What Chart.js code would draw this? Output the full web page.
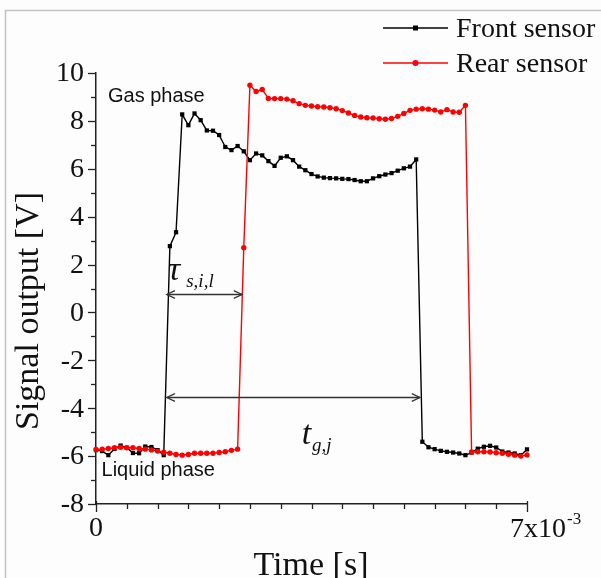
<!DOCTYPE html>
<html>
<head>
<meta charset="utf-8">
<script src="https://cdn.jsdelivr.net/npm/chart.js@4/dist/chart.umd.min.js"></script>
<style>
html,body{margin:0;padding:0;background:#fdfdfd;}
#wrap{width:601px;height:578px;position:relative;}
</style>
</head>
<body>
<div id="wrap"><canvas id="c" width="601" height="578"></canvas></div>
<script>
// ---- data (time in ms, signal in V) ----
const timeMs = [0.0,0.1,0.2,0.3,0.4,0.5,0.6,0.7,0.8,0.9,1.0,1.1,1.2,1.3,1.4,1.5,1.6,1.7,1.8,1.9,
  2.0,2.1,2.2,2.3,2.4,2.5,2.6,2.7,2.8,2.9,3.0,3.1,3.2,3.3,3.4,3.5,3.6,3.7,3.8,3.9,
  4.0,4.1,4.2,4.3,4.4,4.5,4.6,4.7,4.8,4.9,5.0,5.1,5.2,5.3,5.4,5.5,5.6,5.7,5.8,5.9,
  6.0,6.1,6.2,6.3,6.4,6.5,6.6,6.7,6.8,6.9,7.0];
const frontSensor = [-5.75,-5.79,-5.96,-5.70,-5.56,-5.65,-5.87,-5.88,-5.60,-5.62,-5.75,-5.96,
  2.77,3.35,8.27,7.82,8.31,8.03,7.60,7.59,7.41,6.91,6.78,6.95,6.73,6.36,6.64,6.56,6.32,6.12,
  6.46,6.52,6.36,6.09,5.94,5.78,5.68,5.63,5.61,5.60,5.58,5.57,5.53,5.48,5.48,5.60,5.69,5.76,
  5.82,5.92,6.02,6.09,6.39,-5.40,-5.63,-5.71,-5.78,-5.82,-5.85,-5.89,-5.96,-5.85,-5.69,-5.61,
  -5.57,-5.64,-5.81,-5.85,-5.89,-5.96,-5.72];
const rearSensor = [-5.72,-5.71,-5.68,-5.65,-5.63,-5.65,-5.65,-5.68,-5.71,-5.74,-5.79,-5.84,
  -5.88,-5.93,-5.96,-5.93,-5.88,-5.88,-5.88,-5.88,-5.85,-5.82,-5.76,-5.71,
  2.70,9.49,9.23,9.31,8.94,8.93,8.93,8.91,8.84,8.72,8.65,8.62,8.59,8.58,8.55,8.51,8.43,8.33,
  8.23,8.16,8.13,8.12,8.09,8.07,8.10,8.19,8.31,8.44,8.49,8.51,8.49,8.45,8.37,8.47,8.37,8.36,8.65,
  -5.83,-5.82,-5.82,-5.83,-5.86,-5.88,-5.92,-5.96,-6.00,-5.95];
const seriesNames = ['Front sensor', 'Rear sensor'];
const yTickValues = [-8,-6,-4,-2,0,2,4,6,8,10];
const yTickLabels = ['-8','-6','-4','-2','0','2','4','6','8','10'];
const xTickLabels = ['0', '7x10'];
const xTickExponent = '-3';
const xAxisTitle = 'Time [s]';
const yAxisTitle = 'Signal output [V]';

// annotation anchors in data units (ms, V)
const notes = {
  gas:    {text:'Gas phase',    t:0.195, v:8.77},
  liquid: {text:'Liquid phase', t:0.09,  v:-6.81},
  tau:    {main:'τ', sub:'s,i,l', t:1.17, v:1.35, gap:6, size:34},
  tg:     {main:'t', sub:'g,j',   t:3.34, v:-5.5, gap:1, size:34},
  tauArrow: {t1:1.15, t2:2.37, v:0.79},
  tgArrow:  {t1:1.15, t2:5.26, v:-3.55}
};

const toXY = (vals) => vals.map((v,i) => ({x: timeMs[i]/1000, y: v}));

const serif = '"Liberation Serif", "Times New Roman", serif';
const sans = '"Liberation Sans", Arial, sans-serif';

function arrowHead(ctx, x, y, dir) {
  const L = 9, a = 0.45;
  ctx.beginPath();
  ctx.moveTo(x - dir*L*Math.cos(a), y - L*Math.sin(a));
  ctx.lineTo(x, y);
  ctx.lineTo(x - dir*L*Math.cos(a), y + L*Math.sin(a));
  ctx.stroke();
}

const decor = {
  id: 'decor',
  beforeDraw(chart) {
    const ctx = chart.ctx;
    ctx.save();
    ctx.fillStyle = '#fdfdfd';
    ctx.fillRect(0, 0, chart.width, chart.height);
    ctx.strokeStyle = '#c4c4c4';
    ctx.lineWidth = 1.5;
    ctx.beginPath();
    ctx.moveTo(5.5, chart.height);
    ctx.lineTo(5.5, 10.5);
    ctx.lineTo(chart.width, 10.5);
    ctx.stroke();
    ctx.restore();
  },
  afterDatasetsDraw(chart) {
    const ctx = chart.ctx;
    const xs = chart.scales.x, ys = chart.scales.y;
    const X = (ms) => xs.getPixelForValue(ms/1000);
    const Y = (v) => ys.getPixelForValue(v);
    const area = chart.chartArea;
    ctx.save();
    // y ticks
    ctx.strokeStyle = '#222';
    ctx.lineWidth = 1.3;
    for (let v = ys.min; v <= ys.max; v += 1) {
      const p = Math.round(Y(v)) + 0.5;
      const len = (v % 2 === 0) ? 8 : 5;
      ctx.beginPath(); ctx.moveTo(area.left - len, p); ctx.lineTo(area.left, p); ctx.stroke();
    }
    // x ticks
    for (let k = 0; k <= 14; k++) {
      const ms = k * 0.5;
      const p = Math.round(X(ms)) + 0.5;
      const major = (k === 0 || k === 14);
      ctx.beginPath();
      ctx.moveTo(p, area.bottom - (major ? 3 : 0));
      ctx.lineTo(p, area.bottom + (major ? 8 : 5));
      ctx.stroke();
    }
    // y tick labels
    ctx.fillStyle = '#111';
    ctx.font = '28px ' + serif;
    ctx.textAlign = 'right';
    ctx.textBaseline = 'middle';
    yTickValues.forEach((v, i) => ctx.fillText(yTickLabels[i], area.left - 12, Y(v) + 1));
    // x tick labels
    ctx.textBaseline = 'alphabetic';
    ctx.textAlign = 'center';
    ctx.fillText(xTickLabels[0], X(0), 536);
    ctx.textAlign = 'left';
    const x7 = X(7) - 17;
    ctx.fillText(xTickLabels[1], x7, 537);
    const w7 = ctx.measureText(xTickLabels[1]).width;
    ctx.font = '17px ' + serif;
    ctx.fillText(xTickExponent, x7 + w7 + 1, 524);
    // axis titles
    ctx.font = '34px ' + serif;
    ctx.textAlign = 'center';
    ctx.fillText(xAxisTitle, 311, 575);
    ctx.save();
    ctx.translate(38, 311);
    ctx.rotate(-Math.PI/2);
    ctx.fillText(yAxisTitle, 0, 0);
    ctx.restore();
    // legend
    const legendRows = [
      {name: seriesNames[0], color:'#000', y: 28, style:'rect'},
      {name: seriesNames[1], color:'#ff0000', y: 63, style:'circle'}
    ];
    legendRows.forEach(r => {
      ctx.strokeStyle = r.color; ctx.fillStyle = r.color; ctx.lineWidth = 1.5;
      ctx.beginPath(); ctx.moveTo(383, r.y); ctx.lineTo(448, r.y); ctx.stroke();
      if (r.style === 'rect') ctx.fillRect(413, r.y - 2.5, 5, 5);
      else { ctx.beginPath(); ctx.arc(415.5, r.y, 3, 0, Math.PI*2); ctx.fill(); }
      ctx.fillStyle = '#111';
      ctx.font = '28px ' + serif;
      ctx.textAlign = 'left';
      ctx.fillText(r.name, 456, r.y + 9);
    });
    // phase labels
    ctx.fillStyle = '#111';
    ctx.font = '20px ' + sans;
    ctx.textAlign = 'left';
    ctx.fillText(notes.gas.text, X(notes.gas.t), Y(notes.gas.v));
    ctx.fillText(notes.liquid.text, X(notes.liquid.t), Y(notes.liquid.v));
    // arrows
    ctx.strokeStyle = '#333';
    ctx.lineWidth = 1.3;
    [notes.tauArrow, notes.tgArrow].forEach(a => {
      const x1 = X(a.t1), x2 = X(a.t2), y = Math.round(Y(a.v)) + 0.5;
      ctx.beginPath(); ctx.moveTo(x1, y); ctx.lineTo(x2, y); ctx.stroke();
      arrowHead(ctx, x1, y, -1);
      arrowHead(ctx, x2, y, 1);
    });
    // symbol labels
    ctx.fillStyle = '#111';
    [notes.tau, notes.tg].forEach((n) => {
      const x = X(n.t), y = Y(n.v);
      ctx.font = 'italic ' + n.size + 'px ' + serif;
      ctx.fillText(n.main, x, y);
      const w = ctx.measureText(n.main).width;
      ctx.font = 'italic 19px ' + serif;
      ctx.fillText(n.sub, x + w + n.gap, y + 7);
    });
    ctx.restore();
  }
};

new Chart(document.getElementById('c'), {
  type: 'line',
  data: {
    datasets: [
      {label: seriesNames[0], data: toXY(frontSensor), borderColor:'#000', backgroundColor:'#000',
       borderWidth:1.4, pointStyle:'rect', pointRadius:3, pointBorderWidth:0, tension:0, order:1, clip:false},
      {label: seriesNames[1], data: toXY(rearSensor), borderColor:'#ff0000', backgroundColor:'#ff0000',
       borderWidth:1.4, pointStyle:'circle', pointRadius:2.7, pointBorderWidth:0, tension:0, order:0, clip:false}
    ]
  },
  options: {
    responsive: false,
    animation: false,
    events: [],
    layout: {padding: {top: 73, right: 74, left: 0, bottom: 0}},
    plugins: {legend: {display:false}, tooltip: {enabled:false}, title:{display:false}},
    scales: {
      x: {type:'linear', min:0, max:0.007,
          ticks:{display:false}, grid:{display:false, drawTicks:false},
          border:{display:true, color:'#222', width:1.5},
          afterFit(s){ s.height = 74; }},
      y: {type:'linear', min:-8, max:10,
          ticks:{display:false}, grid:{display:false, drawTicks:false},
          border:{display:true, color:'#222', width:1.5},
          afterFit(s){ s.width = 96; }}
    }
  },
  plugins: [decor]
});
</script>
</body>
</html>
